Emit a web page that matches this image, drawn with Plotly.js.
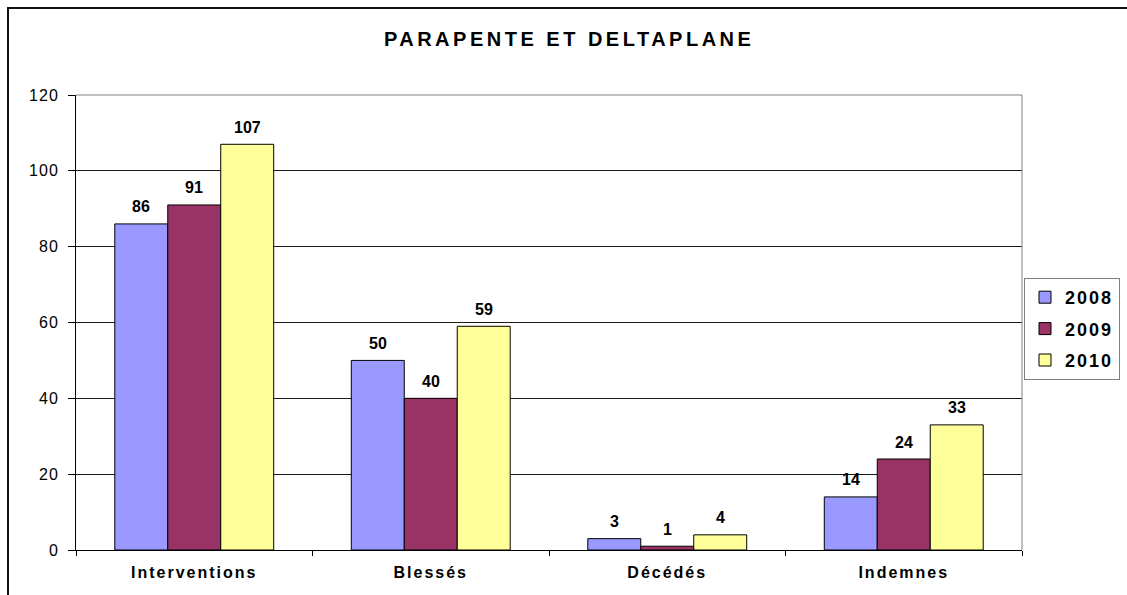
<!DOCTYPE html>
<html>
<head>
<meta charset="utf-8">
<script src="https://cdn.plot.ly/plotly-3.0.1.min.js"></script>
<style>
  html, body { margin: 0; padding: 0; background: #fff; overflow: hidden; }
  #wrap { position: relative; width: 1127px; height: 595px; overflow: hidden; }
  #chart { width: 1127px; height: 595px; }
  #frameTop { position: absolute; left: 7px; top: 7px; width: 1120px; height: 2px; background: #111; pointer-events: none; }
  #frameLeft { position: absolute; left: 7px; top: 7px; width: 2px; height: 588px; background: #111; pointer-events: none; }
  .gtitle { letter-spacing: 3.5px; }
  .xtick text { letter-spacing: 2px; }
  .ytick text { letter-spacing: 1px; }
  .legendtext { letter-spacing: 2px; }
</style>
</head>
<body>
<div id="wrap">
  <div id="chart"></div>
  <div id="frameTop"></div>
  <div id="frameLeft"></div>
</div>
<script>
const categories = ["Interventions", "Blessés", "Décédés", "Indemnes"];
const years = ["2008", "2009", "2010"];
const values2008 = [86, 50, 3, 14];
const values2009 = [91, 40, 1, 24];
const values2010 = [107, 59, 4, 33];
const yTicks = [0, 20, 40, 60, 80, 100, 120];

const seriesValues = [values2008, values2009, values2010];
const colors = ["#9999FF", "#993366", "#FFFF99"];
const barPx = 53;

const traces = seriesValues.map((vals, i) => ({
  type: "bar",
  name: years[i],
  x: categories,
  y: vals,
  legendgroup: years[i],
  marker: { color: colors[i], line: { color: "#000", width: 1 } },
  hoverinfo: "x+y+name"
}));

const annotations = [];
seriesValues.forEach((vals, i) => {
  vals.forEach((v, j) => {
    annotations.push({
      x: categories[j], y: v, xref: "x", yref: "y",
      text: String(v), showarrow: false,
      xanchor: "center", yanchor: "middle",
      xshift: (i - 1) * barPx, yshift: 17,
      font: { family: "Liberation Sans, Arial, sans-serif", size: 16, color: "#000", weight: "bold" }
    });
  });
});

const layout = {
  width: 1127, height: 595,
  margin: { l: 76, r: 105, t: 95, b: 45 },
  paper_bgcolor: "#fff", plot_bgcolor: "#fff",
  font: { family: "Liberation Sans, Arial, sans-serif", color: "#000" },
  title: {
    text: "<b>PARAPENTE ET DELTAPLANE</b>",
    x: 0.505, xanchor: "center", xref: "container",
    y: 1 - 39 / 595, yanchor: "middle", yref: "container",
    font: { size: 20, color: "#000" }
  },
  barmode: "group", bargap: 0.328, bargroupgap: 0,
  xaxis: {
    type: "category",
    tickvals: categories,
    ticktext: categories.map(c => "<b>" + c + "</b>"),
    tickson: "boundaries",
    ticks: "outside", ticklen: 5, tickcolor: "#000", tickwidth: 1,
    showline: true, linecolor: "#000", linewidth: 1,
    showgrid: false,
    tickfont: { size: 16, color: "#000" },
    ticklabelstandoff: 8,
    fixedrange: true
  },
  yaxis: {
    range: [0, 120],
    tickvals: yTicks,
    ticktext: yTicks.map(String),
    ticks: "outside", ticklen: 7, tickcolor: "#000", tickwidth: 1,
    showline: true, linecolor: "#000", linewidth: 1,
    showgrid: true, gridcolor: "#1a1a1a", gridwidth: 1,
    zeroline: false,
    tickfont: { size: 16, color: "#000" },
    ticklabelstandoff: 6,
    fixedrange: true
  },
  legend: {
    x: 1024 / 1127, xanchor: "left", xref: "container",
    y: 1 - 278 / 595, yanchor: "top", yref: "container",
    bordercolor: "#808080", borderwidth: 1, bgcolor: "#fff",
    traceorder: "grouped", tracegroupgap: 5,
    font: { size: 18, color: "#000", weight: "bold" }
  },
  shapes: [
    {
      type: "path", xref: "paper", yref: "paper",
      path: "M 0,1 L 1,1 L 1,0",
      line: { color: "#808080", width: 1 }, layer: "above"
    }
  ],
  annotations: annotations,
  showlegend: true
};

Plotly.newPlot("chart", traces, layout, { displayModeBar: false, staticPlot: true });
</script>
</body>
</html>
